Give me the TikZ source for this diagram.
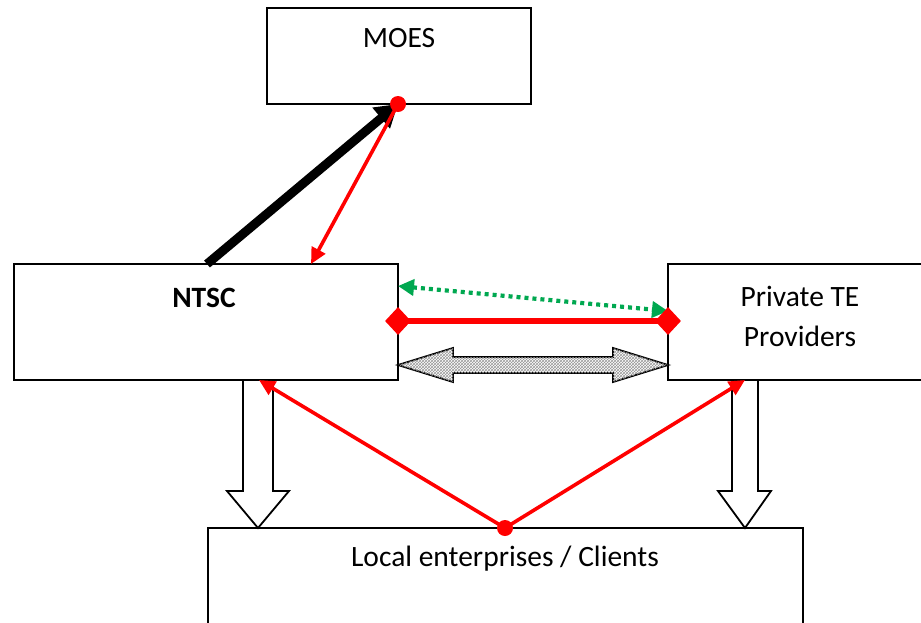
\documentclass[tikz,border=0pt]{standalone}
\usepackage{fontspec}
\setmainfont{Carlito}
\usetikzlibrary{arrows.meta,patterns,calc,shapes.geometric}
\begin{document}
\begin{tikzpicture}[x=1pt,y=-1pt,
  box/.style={draw,line width=1.8pt,fill=white,inner sep=0pt},
  redarr/.style={draw=red,line width=3.6pt,-{Triangle[length=16pt,width=15pt]}},
  reddot/.style={circle,fill=red,inner sep=0pt,minimum size=16pt},
  reddiam/.style={diamond,fill=red,inner sep=0pt,minimum width=26pt,minimum height=28pt},
  blockarr/.style={draw,line width=1.8pt,fill=white},
  lab/.style={font=\fontsize{29.5}{35}\selectfont}]
\useasboundingbox (0,0) rectangle (921,622);
% boxes
\path[box] (267,8) rectangle (531,104);
\node[lab] (moes) at (399,38) {MOES};
\path[box] (14,264) rectangle (398,380);
\node[lab,font=\fontsize{29.5}{35}\selectfont\bfseries] (ntsc) at (204,298) {NTSC};
\path[box] (668,264) rectangle (925,380);
\node[lab,align=center,font=\fontsize{29.5}{40}\selectfont] (pte) at (800,316) {Private TE\\Providers};
\path[box] (208,528) rectangle (803,630);
\node[lab] (loc) at (505,559) {Local enterprises / Clients};
% coordinates
\coordinate (moesdot) at (398,104);
\coordinate (ntscTop) at (207,264);
\coordinate (ntscTopR) at (311,264);
\coordinate (ntscR1) at (398,286);
\coordinate (pteL1) at (668,311);
\coordinate (ntscR2) at (398,321);
\coordinate (pteL2) at (668,321);
\coordinate (locdot) at (505,528);
\coordinate (ntscB) at (259,380);
\coordinate (pteB) at (745,380);
% block down arrows
\path[blockarr] (243,380) -- (273,380) -- (273,491) -- (289,491) -- (258,528) -- (227,491) -- (243,491) -- cycle;
\path[blockarr] (732,380) -- (758,380) -- (758,491) -- (771,491) -- (745,528) -- (718,491) -- (732,491) -- cycle;
% hatched double arrow
\path[draw,line width=1.8pt,fill=white] (398,365) -- (453,348) -- (453,357) -- (613,357) -- (613,348) -- (668,365) -- (613,382) -- (613,373) -- (453,373) -- (453,382) -- cycle;
\path[pattern=crosshatch,pattern color=black!40] (398,365) -- (453,348) -- (453,357) -- (613,357) -- (613,348) -- (668,365) -- (613,382) -- (613,373) -- (453,373) -- (453,382) -- cycle;
% black thick arrow
\draw[line width=9pt,-{Triangle[length=22pt,width=26pt]}] (ntscTop) -- (moesdot);
% red arrow from MOES to NTSC
\draw[redarr] (moesdot) -- (ntscTopR);
\node[reddot] at (moesdot) {};
% green dotted
\draw[draw={rgb,255:red,0;green,168;blue,80},line width=4.2pt,dash pattern=on 4pt off 4pt,{Triangle[length=16pt,width=16pt]}-{Triangle[length=16pt,width=16pt]}] (ntscR1) -- (pteL1);
% red diamond line
\draw[red,line width=6.5pt] (ntscR2) -- (pteL2);
\node[reddiam] at (ntscR2) {};
\node[reddiam] at (pteL2) {};
% red lines from local
\draw[redarr] (locdot) -- (ntscB);
\draw[redarr] (locdot) -- (pteB);
\node[reddot] at (locdot) {};
\end{tikzpicture}
\end{document}
